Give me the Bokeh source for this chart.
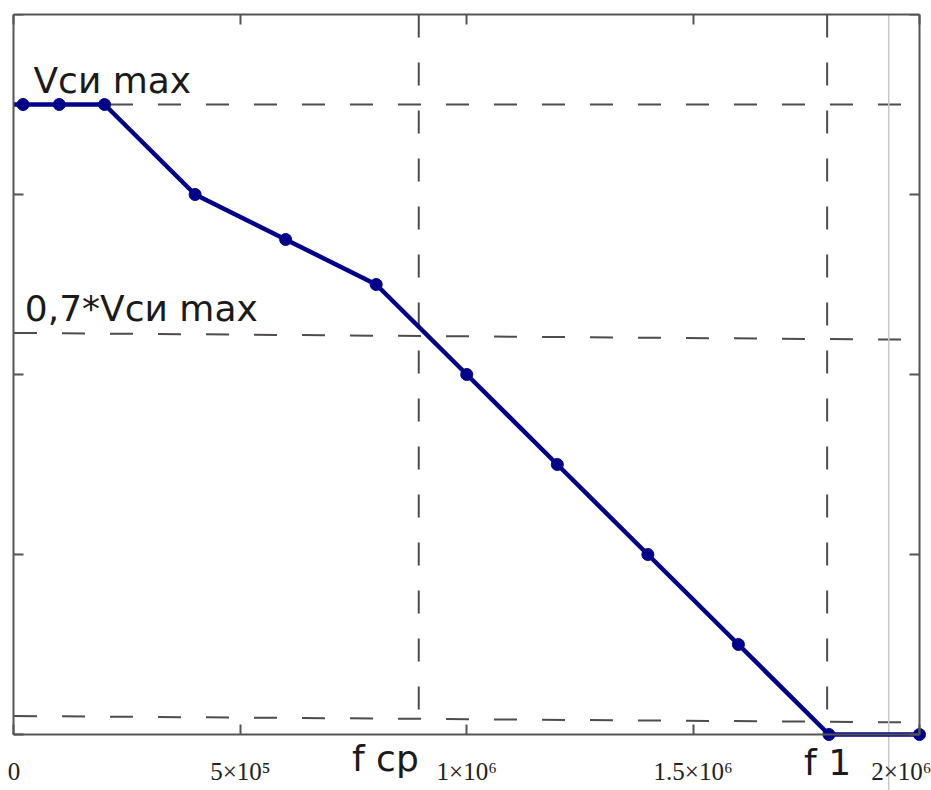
from bokeh.plotting import figure
from bokeh.models import Range1d, LinearAxis, FixedTicker, Label
from bokeh.embed import file_html
from bokeh.resources import INLINE

# ---- data ----
freq = [2e4, 1e5, 2e5, 4e5, 6e5, 8e5, 1e6, 1.2e6, 1.4e6, 1.6e6, 1.8e6, 2e6]
volt = [3.5, 3.5, 3.5, 3.0, 2.75, 2.5, 2.0, 1.5, 1.0, 0.5, 0.0, 0.0]
line_freq = [0.0] + freq
line_volt = [3.5] + volt

x_ticks = [0, 500000, 1000000, 1500000, 2000000]
x_tick_labels = ["0", "5×10⁵", "1×10⁶", "1.5×10⁶", "2×10⁶"]
y_ticks = [0, 1, 2, 3, 4]
x_min, x_max = 0.0, 2e6
y_min, y_max = 0.0, 4.0

# hand-drawn guide lines (x0, y0, x1, y1)
guide_x0 = [0.0, 0.0, 0.0, 0.894e6, 1.796e6]
guide_y0 = [3.5, 2.231, 0.103, 4.0, 4.0]
guide_x1 = [2e6, 2e6, 2e6, 0.894e6, 1.796e6]
guide_y1 = [3.5, 2.193, 0.067, 0.085, 0.07]

gray_x = [1.932e6]
gray_y0 = [4.0]
gray_y1 = [-0.32]

label_texts = ["Vси max", "0,7*Vси max", "f cp", "f 1"]
label_x = [0.043e6, 0.024e6, 0.7465e6, 1.745e6]
label_y = [3.634, 2.367, -0.133, -0.155]

FRAME = "#555555"

p = figure(width=931, height=790, output_backend="svg", toolbar_location=None,
           x_range=Range1d(-0.0298e6, 2.0265e6), y_range=Range1d(-0.3111, 4),
           min_border_left=0, min_border_right=0, min_border_top=14,
           min_border_bottom=0)
p.background_fill_color = "white"
p.border_fill_color = "white"
p.outline_line_color = None
p.xgrid.visible = False
p.ygrid.visible = False

def style_axis(ax, ticks, bounds, labels=None):
    ax.ticker = FixedTicker(ticks=ticks)
    ax.bounds = bounds
    ax.axis_line_color = FRAME
    ax.axis_line_width = 2
    ax.major_tick_line_color = FRAME
    ax.major_tick_line_width = 2
    ax.major_tick_in = 10
    ax.major_tick_out = 0
    ax.minor_tick_line_color = None
    if labels is None:
        ax.major_label_overrides = {t: "" for t in ticks}
        ax.major_label_text_font_size = "8px"
        ax.major_label_standoff = 0
    else:
        ax.major_label_overrides = {t: s for t, s in zip(ticks, labels)}
        ax.major_label_text_font = "Liberation Serif"
        ax.major_label_text_font_size = "25px"
        ax.major_label_text_color = "#222222"
        ax.major_label_standoff = 23

xa = p.xaxis[0]
style_axis(xa, x_ticks, (x_min, x_max), x_tick_labels)
xa.fixed_location = y_min
ya = p.yaxis[0]
style_axis(ya, y_ticks, (y_min, y_max))
ya.fixed_location = x_min
top = LinearAxis()
style_axis(top, x_ticks, (x_min, x_max))
p.add_layout(top, "above")
right = LinearAxis(fixed_location=x_max)
style_axis(right, y_ticks, (y_min, y_max))
p.add_layout(right, "right")

# guide lines
p.segment(x0=guide_x0, y0=guide_y0, x1=guide_x1, y1=guide_y1,
          line_color="#4d4d4d", line_width=2, line_dash="23 25")

# gray vertical line (extends below the axis)
p.segment(x0=gray_x, y0=gray_y0, x1=gray_x, y1=gray_y1,
          line_color="#c8c8c8", line_width=1.5)

# data trace
p.line(line_freq, line_volt, line_color="#00008b", line_width=4.5)
p.scatter(freq, volt, size=12, fill_color="#00008b", line_color="#00008b")

for t, x, y in zip(label_texts, label_x, label_y):
    p.add_layout(Label(x=x, y=y, text=t, text_font="DejaVu Sans",
                       text_font_size="36px", text_color="#1a1a1a",
                       text_align="left", text_baseline="alphabetic"))

open("out.html", "w").write(file_html(p, INLINE))
